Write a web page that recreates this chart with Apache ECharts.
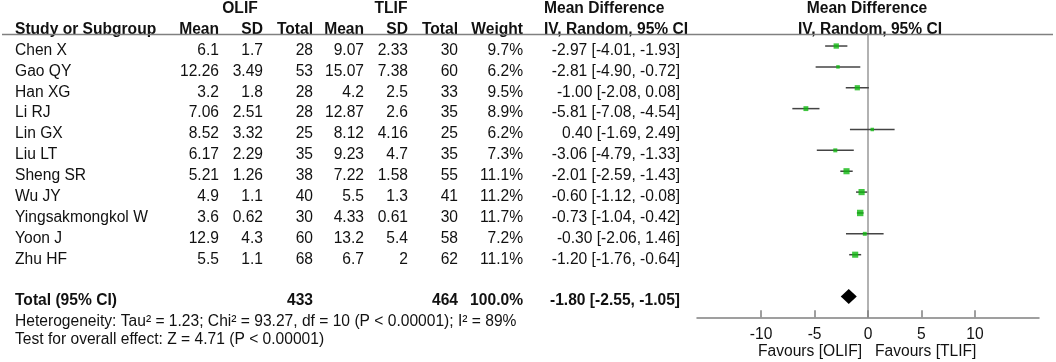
<!DOCTYPE html>
<html><head><meta charset="utf-8">
<script src="https://cdn.jsdelivr.net/npm/echarts@6/dist/echarts.min.js"></script>
<style>html,body{margin:0;padding:0;background:#fff}#c{width:1056px;height:362px}</style>
</head><body><div id="c"></div>
<script>
// ---------- data ----------
const studies = ['Chen X','Gao QY','Han XG','Li RJ','Lin GX','Liu LT','Sheng SR','Wu JY','Yingsakmongkol W','Yoon J','Zhu HF'];
const olifMean = [6.1,12.26,3.2,7.06,8.52,6.17,5.21,4.9,3.6,12.9,5.5];
const olifSD   = [1.7,3.49,1.8,2.51,3.32,2.29,1.26,1.1,0.62,4.3,1.1];
const olifN    = [28,53,28,28,25,35,38,40,30,60,68];
const tlifMean = [9.07,15.07,4.2,12.87,8.12,9.23,7.22,5.5,4.33,13.2,6.7];
const tlifSD   = [2.33,7.38,2.5,2.6,4.16,4.7,1.58,1.3,0.61,5.4,2];
const tlifN    = [30,60,33,35,25,35,55,41,30,58,62];
const weights  = [9.7,6.2,9.5,8.9,6.2,7.3,11.1,11.2,11.7,7.2,11.1];
const md       = [-2.97,-2.81,-1.00,-5.81,0.40,-3.06,-2.01,-0.60,-0.73,-0.30,-1.20];
const ciLow    = [-4.01,-4.90,-2.08,-7.08,-1.69,-4.79,-2.59,-1.12,-1.04,-2.06,-1.76];
const ciHigh   = [-1.93,-0.72,0.08,-4.54,2.49,-1.33,-1.43,-0.08,-0.42,1.46,-0.64];
const totalOlifN = 433;
const totalTlifN = 464;
const totalWeight = 100.0;
const totalMD = -1.80, totalLow = -2.55, totalHigh = -1.05;
const xTicks = [-10,-5,0,5,10];
const heterogeneityText = 'Heterogeneity: Tau² = 1.23; Chi² = 93.27, df = 10 (P < 0.00001); I² = 89%';
const overallText = 'Test for overall effect: Z = 4.71 (P < 0.00001)';
const groupA = 'OLIF', groupB = 'TLIF';

// ---------- layout ----------
const FONT = '"Liberation Sans", Arial, sans-serif';
const FS = 15.6;
const TXT = '#111';
const col = {study:15, m1:219, sd1:263, n1:313, m2:364, sd2:408, n2:458, w:523, mdR:680, mdL:544, g1:240, g2:391, plotC:868};
const TOTAL_ROW = 12;
const fmt2 = v => v.toFixed(2);
const mdText = (m,l,h) => `${fmt2(m)} [${fmt2(l)}, ${fmt2(h)}]`;

function cell(text, x, align, bold) { return {text:String(text), x, align, bold:!!bold}; }

const tableRows = [];
tableRows.push({row:-2, cells:[
  cell(groupA, col.g1, 'center', true), cell(groupB, col.g2, 'center', true),
  cell('Mean Difference', col.mdL, 'left', true), cell('Mean Difference', col.plotC - 1, 'center', true)]});
tableRows.push({row:-1, cells:[
  cell('Study or Subgroup', col.study, 'left', true),
  cell('Mean', col.m1, 'right', true), cell('SD', col.sd1, 'right', true), cell('Total', col.n1, 'right', true),
  cell('Mean', col.m2, 'right', true), cell('SD', col.sd2, 'right', true), cell('Total', col.n2, 'right', true),
  cell('Weight', col.w, 'right', true), cell('IV, Random, 95% CI', col.mdL, 'left', true),
  cell('IV, Random, 95% CI', col.plotC + 2, 'center', true)]});
studies.forEach((s,i) => tableRows.push({row:i, cells:[
  cell(s, col.study, 'left'), cell(olifMean[i], col.m1, 'right'), cell(olifSD[i], col.sd1, 'right'), cell(olifN[i], col.n1, 'right'),
  cell(tlifMean[i], col.m2, 'right'), cell(tlifSD[i], col.sd2, 'right'), cell(tlifN[i], col.n2, 'right'),
  cell(weights[i].toFixed(1)+'%', col.w, 'right'), cell(mdText(md[i], ciLow[i], ciHigh[i]), col.mdR, 'right')]}));
tableRows.push({row:TOTAL_ROW, cells:[
  cell('Total (95% CI)', col.study, 'left', true), cell(totalOlifN, col.n1, 'right', true), cell(totalTlifN, col.n2, 'right', true),
  cell(totalWeight.toFixed(1)+'%', col.w, 'right', true), cell(mdText(totalMD, totalLow, totalHigh), col.mdR, 'right', true)]});
tableRows.push({row:13, cells:[cell(heterogeneityText, col.study, 'left')]});
tableRows.push({row:13.85, cells:[cell(overallText, col.study, 'left')]});

const chart = echarts.init(document.getElementById('c'), null, {renderer:'canvas'});
const option = {
  animation:false,
  backgroundColor:'#fff',
  textStyle:{fontFamily:FONT},
  grid:{left:697, right:17, top:33.5, bottom:44.7, containLabel:false},
  xAxis:{type:'value', min:-16, max:16, position:'bottom',
    axisLine:{onZero:false, lineStyle:{color:'#808080', width:1.5}},
    axisTick:{show:true, inside:true, length:7, customValues:xTicks, lineStyle:{color:'#808080', width:1.5}},
    axisLabel:{customValues:xTicks, fontSize:FS, color:TXT, margin:9, fontFamily:FONT},
    splitLine:{show:false}},
  yAxis:{type:'value', inverse:true, min:-0.6, max:13,
    axisLine:{show:true, onZero:true, lineStyle:{color:'#999', width:1.5}},
    axisTick:{show:false}, axisLabel:{show:false}, splitLine:{show:false}},
  graphic:[
    {type:'line', shape:{x1:2, y1:34.5, x2:1053, y2:34.5}, style:{stroke:'#808080', lineWidth:1.5}, z:10},
    {type:'text', x:862, y:352, style:{text:'Favours ['+groupA+']', fill:TXT, font:`${FS}px ${FONT}`, textAlign:'right', textVerticalAlign:'middle'}},
    {type:'text', x:875, y:352, style:{text:'Favours ['+groupB+']', fill:TXT, font:`${FS}px ${FONT}`, textAlign:'left', textVerticalAlign:'middle'}}
  ],
  series:[
    { // table text, rows placed through the y axis
      type:'custom', clip:false, silent:true,
      data: tableRows.map(r => [0, r.row]),
      encode:{x:0, y:1},
      renderItem:(params, api) => {
        const r = tableRows[params.dataIndex];
        const y = api.coord([0, api.value(1)])[1] + 4.5;
        return {type:'group', children: r.cells.map(c => ({
          type:'text', x:c.x, y:y,
          style:{text:c.text, fill:TXT, font:`${c.bold?'bold ':''}${FS}px ${FONT}`, textAlign:c.align, textVerticalAlign:'middle'}
        }))};
      }
    },
    { // CI whiskers
      type:'custom', silent:true,
      data: studies.map((s,i) => [ciLow[i], ciHigh[i], i]),
      encode:{x:[0,1], y:2},
      renderItem:(params, api) => {
        const a = api.coord([api.value(0), api.value(2)]);
        const b = api.coord([api.value(1), api.value(2)]);
        return {type:'line', shape:{x1:a[0], y1:a[1], x2:b[0], y2:b[1]}, style:{stroke:'#444', lineWidth:1.5}};
      }, z:3
    },
    { // point estimates
      type:'scatter', symbol:'rect', silent:true,
      data: studies.map((s,i) => [md[i], i, weights[i]]),
      symbolSize: v => Math.max(3.5, v[2]*0.55),
      itemStyle:{color:'#10b810'}, z:4
    },
    { // pooled diamond
      type:'custom', silent:true,
      data:[[totalLow, totalMD, totalHigh, TOTAL_ROW]],
      encode:{x:[0,1,2], y:3},
      renderItem:(params, api) => {
        const row = api.value(3);
        const l = api.coord([api.value(0), row]);
        const m = api.coord([api.value(1), row]);
        const h = api.coord([api.value(2), row]);
        const hh = 7.5;
        return {type:'polygon', shape:{points:[[l[0],l[1]],[m[0],m[1]-hh],[h[0],h[1]],[m[0],m[1]+hh]]}, style:{fill:'#000'}};
      }, z:5
    }
  ]
};
chart.setOption(option);
</script>
</body></html>
